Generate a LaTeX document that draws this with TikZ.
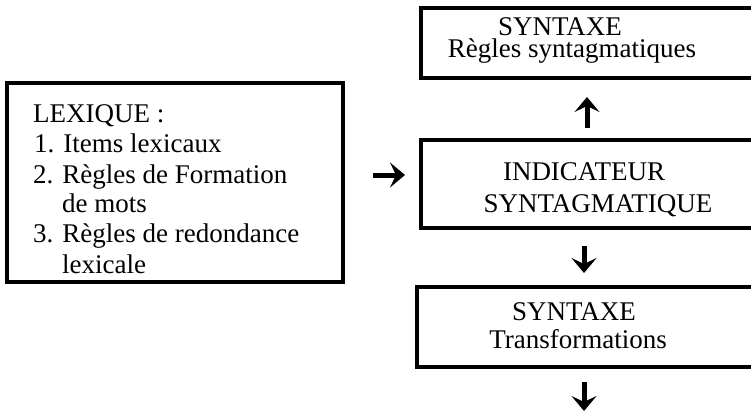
\documentclass[tikz,border=0pt]{standalone}
\usepackage{fontspec}
\setmainfont{Liberation Serif}
\usetikzlibrary{arrows.meta}
\tikzset{
  box/.style={draw=black, line width=4pt, rectangle, inner sep=0pt, outer sep=0pt, anchor=north west},
  txt/.style={font=\fontsize{27pt}{30pt}\selectfont, inner sep=0pt, anchor=base},
  ltxt/.style={txt, anchor=base west},
  bigarrow/.style={line width=5pt, -{Stealth[length=15pt, width=25pt, inset=6pt]}}
}
\begin{document}
\begin{tikzpicture}[x=1pt, y=-1pt]
\useasboundingbox (0,0) rectangle (751,413);
\clip (0,0) rectangle (751,413);
% boxes
\node[box, minimum width=339pt, minimum height=70pt] (syn) at (421,8) {};
\node[box, minimum width=339pt, minimum height=88pt] (ind) at (421,140) {};
\node[box, minimum width=343pt, minimum height=80pt] (tra) at (417,287) {};
\node[box, minimum width=336pt, minimum height=199pt] (lex) at (7,83) {};
% texts of the right boxes
\node[txt, text depth=0pt] (syna) at (560,35) {SYNTAXE};
\node[txt, text height=16pt] (synb) at (572,57) {Règles syntagmatiques};
\node[txt] (inda) at (584,180) {INDICATEUR};
\node[txt] (indb) at (598,212) {SYNTAGMATIQUE};
\node[txt] (traa) at (574,320) {SYNTAXE};
\node[txt] (trab) at (578,348) {Transformations};
% lexique texts
\node[ltxt] (lx0) at (33,122) {LEXIQUE :};
\node[ltxt] (lx1) at (34,152) {1. Items lexicaux};
\node[ltxt] (lx2) at (33,183) {2. Règles de Formation};
\node[ltxt] (lx3) at (62,212) {de mots};
\node[ltxt] (lx4) at (33,242) {3. Règles de redondance};
\node[ltxt] (lx5) at (62,273) {lexicale};
% arrows
\coordinate (ax) at (587,0);
\coordinate (bx) at (584,0);
\coordinate (ay) at (0,175);
\coordinate (fin) at (584,411);
\draw[bigarrow, shorten <=12pt, shorten >=19pt] (ind.north -| ax) -- (syn.south -| ax);
\draw[bigarrow, shorten <=30pt, shorten >=16pt] (lex.east |- ay) -- (ind.west |- ay);
\draw[bigarrow, shorten <=18pt, shorten >=14pt] (ind.south -| bx) -- (tra.north -| bx);
\draw[bigarrow, shorten <=15pt] (tra.south -| bx) -- (fin);
\end{tikzpicture}
\end{document}
